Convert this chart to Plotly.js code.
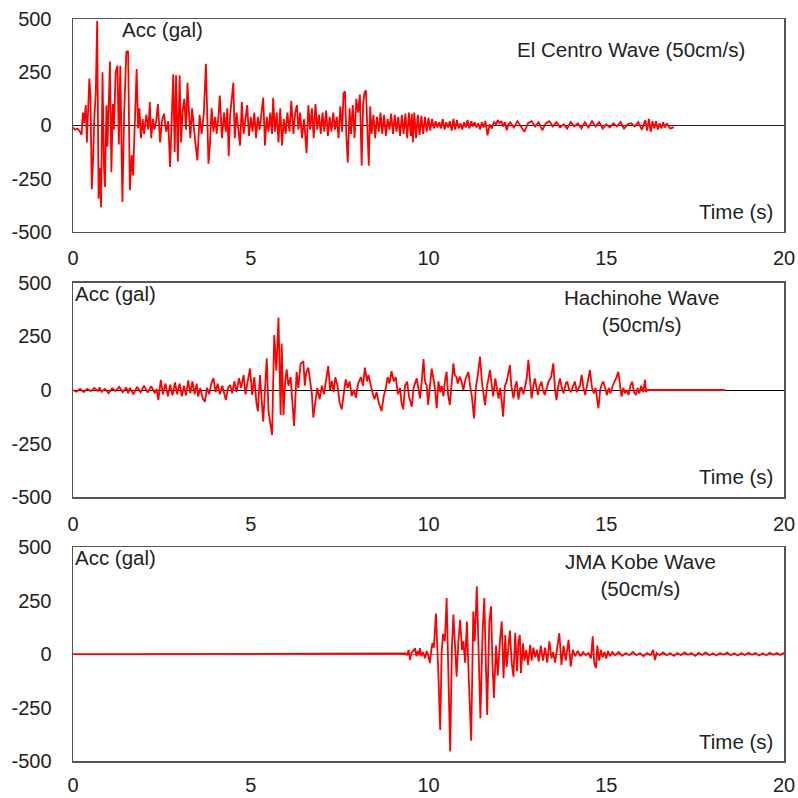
<!DOCTYPE html>
<html>
<head>
<meta charset="utf-8">
<script src="https://cdn.plot.ly/plotly-3.0.1.min.js"></script>
<style>html,body{margin:0;padding:0;background:#fff;}#chart{width:798px;height:798px;}</style>
</head>
<body>
<div id="chart"></div>
<script>
// ---------- Data ----------
const xTicks = [0, 5, 10, 15, 20];
const yTicks = [-500, -250, 0, 250, 500];
const yTickLabels = ['-500', '-250', '0', '250', '500'];

const elCentroTitle = 'El Centro Wave (50cm/s)';
const hachinoheTitle = 'Hachinohe Wave<br>(50cm/s)';
const kobeTitle = 'JMA Kobe Wave<br>(50cm/s)';

// El Centro wave: time (s) and acceleration (gal)
const elcT = [0,0.06,0.12,0.18,0.24,0.28,0.31,0.36,0.39,0.42,0.46,0.49,0.53,0.57,0.6,0.64,0.68,0.72,0.75,0.79,0.83,0.87,0.9,0.94,0.97,1.04,1.08,1.12,1.15,1.2,1.25,1.29,1.33,1.39,1.44,1.5,1.55,1.6,1.65,1.69,1.73,1.79,1.83,1.87,1.91,1.96,2.0,2.06,2.12,2.16,2.2,2.25,2.29,2.34,2.39,2.45,2.5,2.56,2.62,2.68,2.73,2.77,2.82,2.86,2.9,2.95,3.0,3.04,3.08,3.13,3.18,3.22,3.26,3.3,3.35,3.4,3.45,3.5,3.56,3.62,3.68,3.74,3.81,3.85,3.9,3.95,4.0,4.04,4.09,4.13,4.19,4.25,4.3,4.34,4.38,4.42,4.47,4.51,4.55,4.6,4.65,4.7,4.75,4.8,4.85,4.9,4.95,5.0,5.05,5.1,5.15,5.2,5.25,5.3,5.35,5.4,5.45,5.5,5.55,5.6,5.63,5.68,5.73,5.78,5.83,5.88,5.93,5.98,6.03,6.09,6.14,6.2,6.25,6.3,6.34,6.39,6.44,6.5,6.57,6.62,6.67,6.72,6.77,6.82,6.87,6.92,6.97,7.02,7.07,7.12,7.17,7.22,7.27,7.32,7.37,7.42,7.47,7.52,7.57,7.61,7.65,7.69,7.73,7.78,7.82,7.87,7.92,7.97,8.02,8.07,8.12,8.16,8.2,8.24,8.28,8.32,8.36,8.4,8.45,8.5,8.55,8.6,8.65,8.7,8.75,8.8,8.85,8.9,8.95,9.0,9.05,9.1,9.15,9.2,9.25,9.3,9.35,9.4,9.45,9.5,9.53,9.56,9.6,9.65,9.7,9.75,9.8,9.85,9.9,9.95,10.0,10.05,10.1,10.15,10.2,10.25,10.3,10.35,10.4,10.45,10.5,10.55,10.6,10.65,10.7,10.75,10.8,10.85,10.9,10.95,11.0,11.05,11.1,11.15,11.2,11.25,11.3,11.35,11.4,11.45,11.5,11.55,11.6,11.66,11.72,11.78,11.84,11.9,11.95,12.0,12.05,12.1,12.15,12.2,12.25,12.3,12.4,12.5,12.6,12.7,12.8,12.9,13.0,13.1,13.2,13.3,13.4,13.5,13.6,13.7,13.8,13.9,14.0,14.1,14.2,14.3,14.4,14.5,14.6,14.7,14.8,14.9,15.0,15.1,15.2,15.3,15.4,15.5,15.6,15.7,15.8,15.9,16.0,16.1,16.15,16.2,16.25,16.3,16.35,16.4,16.45,16.5,16.55,16.6,16.65,16.7,16.8,16.9,16.98];
const elcA = [-10,-20,-15,-25,-45,60,10,95,-80,60,220,140,-300,-140,40,150,490,-345,-200,-385,250,-190,-290,95,-100,300,-220,100,-20,250,280,-90,280,-360,60,345,350,-305,-140,-235,0,265,-15,80,-60,30,-40,50,-20,110,-60,30,-20,20,100,-80,20,55,-30,20,-195,50,240,-125,235,-170,235,-80,60,125,-20,200,30,-60,80,-20,-95,-165,50,-40,60,290,-180,-95,80,-30,40,-40,40,140,-60,60,-30,80,-145,50,120,200,-60,60,-20,-95,110,-40,30,95,-50,40,-30,60,-60,40,-20,70,130,-95,40,-30,60,-40,130,-30,60,-80,80,-95,30,-40,60,-30,115,-40,60,95,-20,60,-60,30,-130,95,-20,80,-60,100,-20,50,-40,60,-30,70,-50,40,-30,60,-20,40,-60,90,-30,150,160,-50,-175,80,-40,95,-60,125,60,145,-190,100,155,165,-20,-190,90,-40,50,-60,40,-30,60,-40,50,-50,30,-20,55,-40,50,-30,40,-50,50,-40,55,-60,60,-50,55,-80,60,-60,50,-45,45,-40,40,-30,35,-25,30,-15,20,-10,15,-15,30,-20,15,-10,20,-25,30,-20,25,-15,10,-20,15,-10,25,-15,20,-5,15,-10,10,-20,15,-10,20,-47,5,-15,15,5,25,10,20,-5,15,-23,5,15,-10,20,-5,-30,10,20,-5,15,-23,10,20,-5,15,-10,5,-15,15,-5,10,-15,15,-10,20,-5,15,-15,5,-10,10,-5,15,-15,5,10,-5,15,-20,25,-25,30,-30,20,-15,20,-20,10,-15,15,-10,10,-15,-8];

// Hachinohe wave
const hacT = [0,0.1,0.2,0.3,0.4,0.5,0.6,0.7,0.75,0.8,0.9,1.0,1.1,1.2,1.3,1.4,1.5,1.55,1.6,1.7,1.8,1.9,2.0,2.1,2.2,2.3,2.35,2.4,2.47,2.53,2.6,2.67,2.73,2.8,2.87,2.93,3.0,3.06,3.12,3.18,3.24,3.3,3.36,3.42,3.48,3.52,3.58,3.65,3.71,3.77,3.83,3.89,3.95,4.01,4.07,4.13,4.2,4.26,4.3,4.36,4.42,4.48,4.54,4.6,4.67,4.73,4.8,4.85,4.92,4.98,5.04,5.1,5.16,5.2,5.26,5.35,5.45,5.5,5.6,5.66,5.72,5.78,5.84,5.87,5.92,5.97,6.01,6.06,6.12,6.17,6.22,6.29,6.34,6.4,6.48,6.52,6.56,6.62,6.68,6.72,6.76,6.82,6.87,6.94,7.0,7.06,7.12,7.18,7.23,7.28,7.33,7.38,7.44,7.5,7.56,7.62,7.67,7.73,7.78,7.84,7.9,7.96,8.02,8.1,8.16,8.21,8.27,8.31,8.36,8.42,8.48,8.54,8.6,8.68,8.74,8.8,8.85,8.9,8.96,9.02,9.08,9.14,9.2,9.24,9.29,9.34,9.4,9.45,9.53,9.58,9.67,9.72,9.76,9.81,9.86,9.9,9.95,9.99,10.04,10.09,10.14,10.18,10.23,10.28,10.33,10.37,10.42,10.46,10.51,10.55,10.6,10.65,10.7,10.74,10.79,10.82,10.88,10.93,10.98,11.04,11.12,11.17,11.22,11.28,11.33,11.38,11.45,11.5,11.54,11.59,11.64,11.69,11.73,11.78,11.82,11.88,11.92,11.97,12.02,12.1,12.15,12.2,12.29,12.33,12.39,12.44,12.48,12.53,12.58,12.62,12.67,12.72,12.76,12.81,12.86,12.9,12.95,12.99,13.04,13.08,13.13,13.18,13.22,13.27,13.33,13.38,13.45,13.51,13.56,13.6,13.65,13.7,13.75,13.8,13.86,13.9,13.96,14.01,14.07,14.12,14.17,14.22,14.26,14.31,14.36,14.41,14.46,14.5,14.54,14.6,14.65,14.7,14.74,14.78,14.83,14.88,14.92,14.97,15.02,15.07,15.12,15.18,15.24,15.29,15.34,15.39,15.43,15.48,15.53,15.58,15.63,15.68,15.73,15.78,15.83,15.88,15.93,15.98,16.04,16.09,16.12,16.14,18.34];
const hacA = [0,-8,5,-10,5,-5,10,-5,12,-8,5,-15,8,-5,15,-10,12,-15,10,-20,15,-10,20,-12,18,-15,5,-47,47,-20,30,-30,25,-25,35,-20,30,-30,20,-25,45,-15,40,-20,30,-30,10,-40,-55,10,-20,30,55,-10,30,-20,20,-30,-47,10,23,-15,40,-10,55,10,70,-20,40,100,-23,60,-60,-100,70,-148,148,-100,-210,256,90,337,-116,217,-116,40,96,20,60,-60,-167,85,10,120,135,20,80,104,40,-20,-129,-40,10,-43,20,-20,60,112,0,42,-10,60,20,-60,-90,-20,50,10,40,-28,0,-36,30,60,20,104,40,70,30,-10,-43,-10,-60,-98,-30,10,60,30,88,40,60,-20,10,-60,-90,20,39,-30,-78,10,54,-10,-39,40,144,40,20,-70,20,100,50,10,-85,40,-10,20,-30,40,85,-20,-70,30,124,70,60,30,62,40,0,50,85,20,-30,-132,10,60,155,40,0,-70,10,60,93,20,-30,54,20,-40,10,-124,20,40,116,20,-39,20,40,-45,10,10,-20,30,50,140,30,-39,20,54,10,-23,20,39,0,-23,10,40,60,124,0,-47,20,54,10,-16,30,39,0,-8,20,39,-10,10,20,70,10,-23,20,40,93,10,-16,10,-40,-85,0,30,39,0,-23,10,-16,20,40,60,85,20,-31,10,-16,0,-23,20,39,-10,-23,10,-16,20,-10,47,-10,0,0];

// JMA Kobe wave
const kobT = [0,9.3,9.36,9.4,9.44,9.48,9.52,9.57,9.62,9.66,9.7,9.73,9.76,9.8,9.84,9.9,9.95,10.0,10.04,10.08,10.11,10.15,10.21,10.27,10.33,10.37,10.41,10.46,10.51,10.56,10.61,10.66,10.7,10.75,10.79,10.84,10.89,10.94,10.98,11.03,11.08,11.13,11.2,11.26,11.3,11.36,11.41,11.46,11.52,11.57,11.61,11.65,11.71,11.76,11.8,11.84,11.9,11.95,12.01,12.06,12.11,12.16,12.2,12.25,12.29,12.34,12.39,12.44,12.49,12.53,12.57,12.6,12.66,12.7,12.75,12.8,12.86,12.9,12.95,13.0,13.05,13.1,13.16,13.22,13.28,13.34,13.4,13.46,13.51,13.56,13.62,13.68,13.74,13.8,13.86,13.94,14.0,14.06,14.12,14.2,14.28,14.35,14.42,14.5,14.57,14.62,14.66,14.71,14.75,14.8,14.85,14.9,14.95,15.0,15.05,15.1,15.17,15.25,15.35,15.45,15.55,15.65,15.75,15.85,15.95,16.05,16.15,16.25,16.32,16.37,16.42,16.5,16.6,16.7,16.8,16.9,17.0,17.1,17.2,17.3,17.4,17.5,17.6,17.7,17.8,17.9,18.0,18.1,18.2,18.3,18.4,18.5,18.6,18.7,18.8,18.9,19.0,19.1,19.2,19.3,19.4,19.5,19.6,19.7,19.8,19.9,20.0];
const kobA = [0,0,3,-5,20,-27,5,15,28,-10,15,-5,28,-10,10,-19,15,-10,-42,20,52,30,190,-60,-355,10,95,60,263,-100,-455,40,185,30,-105,60,161,20,60,-40,153,-100,-405,200,60,318,-50,-300,100,263,-20,-285,150,224,-50,-205,40,-100,60,153,-113,90,-60,40,110,-40,-105,100,-80,60,90,-89,51,-30,20,-50,44,-30,30,-15,20,-35,40,-30,30,-40,60,-20,10,-40,30,98,-50,40,-30,67,-58,20,-10,15,-10,10,-5,5,-20,83,-40,-66,40,-30,20,-15,10,-20,15,-10,10,-5,10,-8,5,-5,10,-5,5,-10,5,-5,20,-27,5,-5,8,-5,5,-8,5,-5,8,-3,5,-8,6,-4,8,-5,4,-6,5,-3,7,-5,4,-6,5,-4,6,-3,5,-6,4,-5,6,-3,5,-4,6,-5,3];

// ---------- Plot ----------
const FONT = 'Liberation Sans, Arial, sans-serif';
const red = '#ff0000';
function trace(x, y, xa, ya) {
  return {x: x, y: y, xaxis: xa, yaxis: ya, type: 'scatter', mode: 'lines',
          line: {color: red, width: 1.8}, hoverinfo: 'skip', showlegend: false};
}
const data = [
  trace(elcT, elcA, 'x', 'y'),
  trace(hacT, hacA, 'x2', 'y2'),
  trace(kobT, kobA, 'x3', 'y3')
];

function xAx(anchor, standoff) {
  return {anchor: anchor, range: [0, 20], tickvals: xTicks, ticktext: xTicks.map(String),
          showgrid: false, zeroline: false, showline: true, mirror: true,
          linecolor: '#555', linewidth: 1.5, ticks: '', ticklabelstandoff: standoff,
          tickfont: {family: FONT, size: 20, color: '#222'}};
}
function yAx(anchor, dom, zc) {
  return {anchor: anchor, domain: dom, range: [-500, 500], tickvals: yTicks, ticktext: yTickLabels,
          showgrid: false, zeroline: true, zerolinecolor: zc, zerolinewidth: 1,
          showline: true, mirror: true, linecolor: '#555', linewidth: 1.5,
          ticks: '', ticklabelstandoff: 16,
          tickfont: {family: FONT, size: 20, color: '#222'}};
}

const afont = {family: FONT, size: 20.5, color: '#222'};
function ann(text, x, y, xr, yr, xanchor) {
  return {text: text, x: x, y: y, xref: xr, yref: yr, xanchor: xanchor, yanchor: 'middle',
          showarrow: false, font: afont, align: 'center'};
}

const layout = {
  width: 798, height: 798,
  margin: {l: 73, r: 14, t: 19, b: 37},
  paper_bgcolor: '#fff', plot_bgcolor: '#fff',
  xaxis: xAx('y', 8), yaxis: yAx('x', [0.7133, 1], '#222'),
  xaxis2: xAx('y2', 8), yaxis2: yAx('x2', [0.3553, 0.6447], '#000'),
  xaxis3: xAx('y3', 5), yaxis3: yAx('x3', [0, 0.288], '#888'),
  annotations: [
    ann('Acc (gal)', 1.33, 453, 'x', 'y', 'left'),
    ann(elCentroTitle, 15.71, 359, 'x', 'y', 'center'),
    ann('Time (s)', 19.75, -406, 'x', 'y', 'right'),
    ann('Acc (gal)', 0.0, 449, 'x2', 'y2', 'left'),
    ann(hachinoheTitle, 16.0, 367, 'x2', 'y2', 'center'),
    ann('Time (s)', 19.75, -402, 'x2', 'y2', 'right'),
    ann('Acc (gal)', 0.0, 453, 'x3', 'y3', 'left'),
    ann(kobeTitle, 15.95, 371, 'x3', 'y3', 'center'),
    ann('Time (s)', 19.75, -407, 'x3', 'y3', 'right')
  ]
};

Plotly.newPlot('chart', data, layout, {staticPlot: true, displayModeBar: false});
</script>
</body>
</html>
